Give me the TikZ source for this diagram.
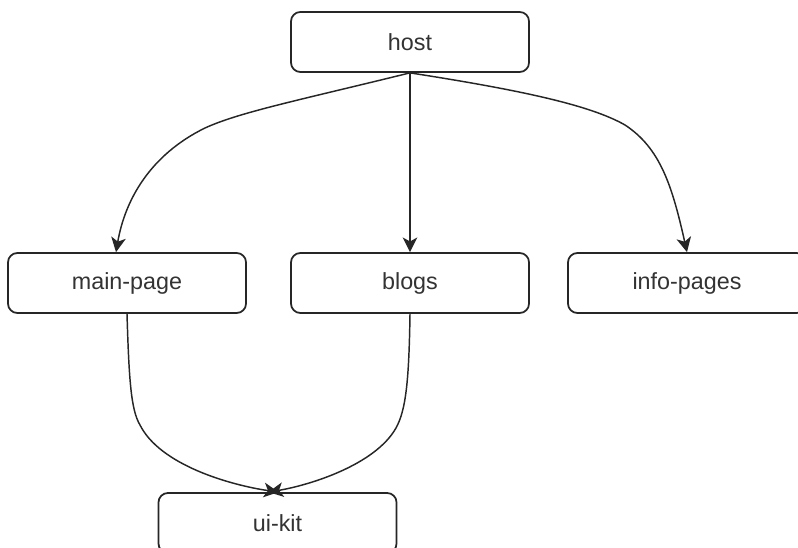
\documentclass[tikz,border=0pt]{standalone}
\usepackage{fontspec}
\setmainfont{Liberation Sans}
\usetikzlibrary{arrows.meta,calc}
\definecolor{txt}{HTML}{333333}
\begin{document}
\begin{tikzpicture}[x=0.75pt,y=-0.75pt,
  box/.style={draw=black!85,line width=1.3pt,rounded corners=7pt,fill=white,
    minimum width=178.5pt,minimum height=45pt,inner sep=0pt,
    font=\fontsize{17.5}{20}\selectfont,text=txt},
  conn/.style={draw=black!85,line width=1.1pt,-{Stealth[length=11pt,width=11pt,inset=3pt]}}]
\useasboundingbox (0,0) rectangle (798,548);
\clip (0,0) rectangle (798,548);
\node[box] (host) at (410,42) {host};
\node[box] (mainpage) at (127,283) {main-page};
\node[box] (blogs) at (410,283) {blogs};
\node[box] (info) at (687,283) {info-pages};
\node[box] (uikit) at (277.5,523) {ui-kit};
\draw[conn] (host.south) .. controls (300,100) and (240,112) .. (205,128)
  .. controls (150,155) and (125,200) .. ($(mainpage.north)+(-11,0)$);
\draw[conn] (host.south) -- (blogs.north);
\draw[conn] (host.south) .. controls (520,90) and (590,105) .. (625,125)
  .. controls (660,148) and (672,185) .. (info.north);
\draw[conn] (mainpage.south) .. controls (129,380) and (131,410) .. (140,425)
  .. controls (160,465) and (230,485) .. ($(uikit.north)+(1,0)$);
\draw[conn] (blogs.south) .. controls (409,380) and (406,410) .. (396,428)
  .. controls (375,465) and (310,485) .. ($(uikit.north)+(-9,0)$);
\end{tikzpicture}
\end{document}
